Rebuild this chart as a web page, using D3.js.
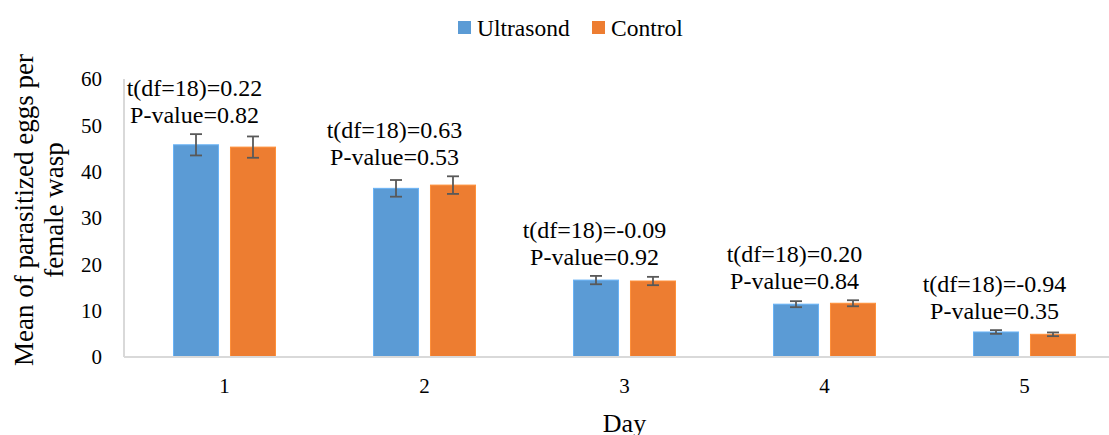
<!DOCTYPE html>
<html>
<head>
<meta charset="utf-8">
<script src="https://cdn.jsdelivr.net/npm/d3@7"></script>
<style>
  body { margin: 0; background: #fff; }
</style>
</head>
<body>
<svg id="chart" width="1109" height="435"></svg>
<script>
const days = ["1", "2", "3", "4", "5"];
const series = ["Ultrasond", "Control"];
const colors = ["#5b9bd5", "#ed7d31"];
const ultrasondMean = [45.8, 36.4, 16.6, 11.4, 5.4];
const ultrasondErr = [2.3, 1.8, 0.9, 0.65, 0.4];
const controlMean = [45.3, 37.1, 16.4, 11.6, 4.9];
const controlErr = [2.3, 1.9, 0.9, 0.65, 0.4];
const tValues = ["0.22", "0.63", "-0.09", "0.20", "-0.94"];
const pValues = ["0.82", "0.53", "0.92", "0.84", "0.35"];
const yTicks = [0, 10, 20, 30, 40, 50, 60];

const svg = d3.select("#chart")
  .attr("font-family", "'Liberation Serif', Tinos, 'Times New Roman', serif");
const plot = { left: 124, right: 1109, top: 79, bottom: 357 };

// the plot area runs past the right edge of the picture (it was cropped)
const x0 = d3.scaleBand().domain(days).range([124.5, 1124.5]);
const x1 = d3.scaleBand().domain(series).range([-51, 51]).paddingInner(0.21);
const y = d3.scaleLinear().domain([0, 60]).range([plot.bottom, plot.top]);

const rows = days.map((d, i) => ({
  day: d,
  bars: [
    { s: series[0], v: ultrasondMean[i], e: ultrasondErr[i], c: colors[0] },
    { s: series[1], v: controlMean[i], e: controlErr[i], c: colors[1] }
  ],
  t: tValues[i],
  p: pValues[i]
}));

// y tick labels (no tick marks, like Excel)
svg.append("g")
  .selectAll("text")
  .data(yTicks)
  .join("text")
  .attr("x", 102)
  .attr("y", (d) => y(d))
  .attr("dy", "0.35em")
  .attr("text-anchor", "end")
  .attr("font-size", 21)
  .text((d) => d);

svg.append("line")
  .attr("x1", plot.left).attr("x2", plot.left)
  .attr("y1", y(60)).attr("y2", y(0))
  .attr("stroke", "#d9d9d9").attr("stroke-width", 2);

const groups = svg.append("g")
  .selectAll("g")
  .data(rows)
  .join("g")
  .attr("transform", (d) => `translate(${x0(d.day) + x0.bandwidth() / 2},0)`);

groups.selectAll("rect")
  .data((d) => d.bars)
  .join("rect")
  .attr("x", (d) => x1(d.s))
  .attr("width", x1.bandwidth())
  .attr("y", (d) => y(d.v))
  .attr("height", (d) => y(0) - y(d.v))
  .attr("fill", (d) => d.c)
  .attr("stroke", (d) => d3.color(d.c).brighter(0.4))
  .attr("stroke-width", 1);

// error bars
const err = groups.selectAll("g.err")
  .data((d) => d.bars)
  .join("g")
  .attr("class", "err")
  .attr("stroke", "#595959")
  .attr("stroke-width", 1.8);
err.append("line")
  .attr("x1", (d) => x1(d.s) + x1.bandwidth() / 2)
  .attr("x2", (d) => x1(d.s) + x1.bandwidth() / 2)
  .attr("y1", (d) => y(d.v + d.e))
  .attr("y2", (d) => y(d.v - d.e));
[1, -1].forEach((k) => {
  err.append("line")
    .attr("x1", (d) => x1(d.s) + x1.bandwidth() / 2 - 6)
    .attr("x2", (d) => x1(d.s) + x1.bandwidth() / 2 + 6)
    .attr("y1", (d) => y(d.v + k * d.e))
    .attr("y2", (d) => y(d.v + k * d.e));
});

// t / P annotations above each pair
groups.each(function (d) {
  const top = y(d3.max(d.bars, (b) => b.v + b.e));
  const g = d3.select(this);
  g.append("text")
    .attr("x", -30)
    .attr("y", top - 38)
    .attr("text-anchor", "middle")
    .attr("font-size", 24)
    .text(`t(df=18)=${d.t}`);
  g.append("text")
    .attr("x", -30)
    .attr("y", top - 11)
    .attr("text-anchor", "middle")
    .attr("font-size", 24)
    .text(`P-value=${d.p}`);
});

svg.append("line")
  .attr("x1", plot.left).attr("x2", plot.right)
  .attr("y1", y(0)).attr("y2", y(0))
  .attr("stroke", "#d9d9d9").attr("stroke-width", 2);

// x tick labels
svg.append("g")
  .selectAll("text")
  .data(days)
  .join("text")
  .attr("x", (d) => x0(d) + x0.bandwidth() / 2)
  .attr("y", 393)
  .attr("text-anchor", "middle")
  .attr("font-size", 21)
  .text((d) => d);

// axis titles
svg.append("text")
  .attr("x", x0("3") + x0.bandwidth() / 2).attr("y", 432)
  .attr("text-anchor", "middle")
  .attr("font-size", 26)
  .text("Day");

const yTitle = svg.append("text")
  .attr("transform", "translate(0,210) rotate(-90)")
  .attr("text-anchor", "middle")
  .attr("font-size", 27);
yTitle.append("tspan").attr("x", 0).attr("y", 33).text("Mean of parasitized eggs per");
yTitle.append("tspan").attr("x", 0).attr("y", 63).text("female wasp");

// legend
const legend = svg.append("g");
const legendX = [458, 592];
series.forEach((s, i) => {
  legend.append("rect")
    .attr("x", legendX[i]).attr("y", 21)
    .attr("width", 13).attr("height", 13)
    .attr("fill", colors[i]);
  legend.append("text")
    .attr("x", legendX[i] + 19).attr("y", 36)
    .attr("font-size", 23.5)
    .text(s);
});
</script>
</body>
</html>
